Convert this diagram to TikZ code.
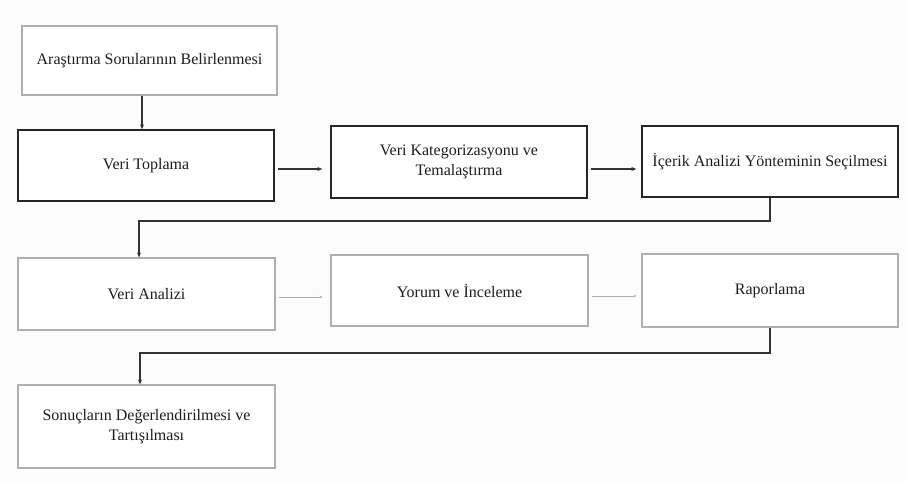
\documentclass[tikz,border=0pt]{standalone}
\usepackage{fontspec}
\setmainfont{Liberation Serif}
\usetikzlibrary{arrows.meta}
\definecolor{bg}{RGB}{252,252,252}
\definecolor{lightedge}{RGB}{175,175,175}
\definecolor{txt}{RGB}{30,30,30}
\begin{document}
\begin{tikzpicture}[x=1pt,y=-1pt,
  box/.style={draw, line width=1.1pt, fill=white, inner sep=0pt, align=center, text=txt, font=\fontsize{16}{19.5}\selectfont},
  darkbox/.style={box, draw=black!85, line width=1.3pt},
  lightbox/.style={box, draw=lightedge},
  darkarrow/.style={draw=black!80, line width=1.1pt, -{Stealth[length=5pt,width=4pt]}},
  lightarrow/.style={draw=lightedge, line width=0.8pt, -{Stealth[length=3pt,width=2.5pt]}}]
\fill[bg] (0,0) rectangle (908,482);
\useasboundingbox (0,0) rectangle (908,482);
\node[lightbox, minimum width=255pt, minimum height=69pt] (a) at (149.5,60.5) {Araştırma Sorularının Belirlenmesi};
\node[darkbox, minimum width=256pt, minimum height=71pt] (b) at (146,165.5) {Veri Toplama};
\node[darkbox, minimum width=256pt, minimum height=72pt] (c) at (459,162) {Veri Kategorizasyonu ve\\Temalaştırma};
\node[darkbox, minimum width=256pt, minimum height=71pt] (d) at (770,161.5) {İçerik Analizi Yönteminin Seçilmesi};
\node[lightbox, minimum width=257pt, minimum height=72pt] (e) at (146.5,294) {Veri Analizi};
\node[lightbox, minimum width=257pt, minimum height=71pt] (f) at (459.5,290.5) {Yorum ve İnceleme};
\node[lightbox, minimum width=256pt, minimum height=73pt] (g) at (770,290.5) {Raporlama};
\node[lightbox, minimum width=257pt, minimum height=83pt] (h) at (146.5,426.5) {Sonuçların Değerlendirilmesi ve\\Tartışılması};
\coordinate (ab) at (142,0);
\draw[darkarrow] (a.south -| ab) -- (b.north -| ab);
\draw[darkarrow] ([xshift=3pt]b.east |- 0,169) -- ([xshift=-8pt]c.west |- 0,169);
\draw[darkarrow] ([xshift=3pt]c.east |- 0,169) -- ([xshift=-5pt]d.west |- 0,169);
\coordinate (dturn) at (770,221);
\draw[darkarrow] (d.south) -- (dturn) -- (139,221) -- (e.north -| 139,0);
\draw[lightarrow] ([xshift=3pt]e.east |- 0,297) -- ([xshift=-8pt]f.west |- 0,297);
\draw[lightarrow] ([xshift=3pt]f.east |- 0,296) -- ([xshift=-5pt]g.west |- 0,296);
\coordinate (gturn) at (770,353);
\draw[darkarrow] (g.south) -- (gturn) -- (140,353) -- (h.north -| 140,0);
\end{tikzpicture}
\end{document}
